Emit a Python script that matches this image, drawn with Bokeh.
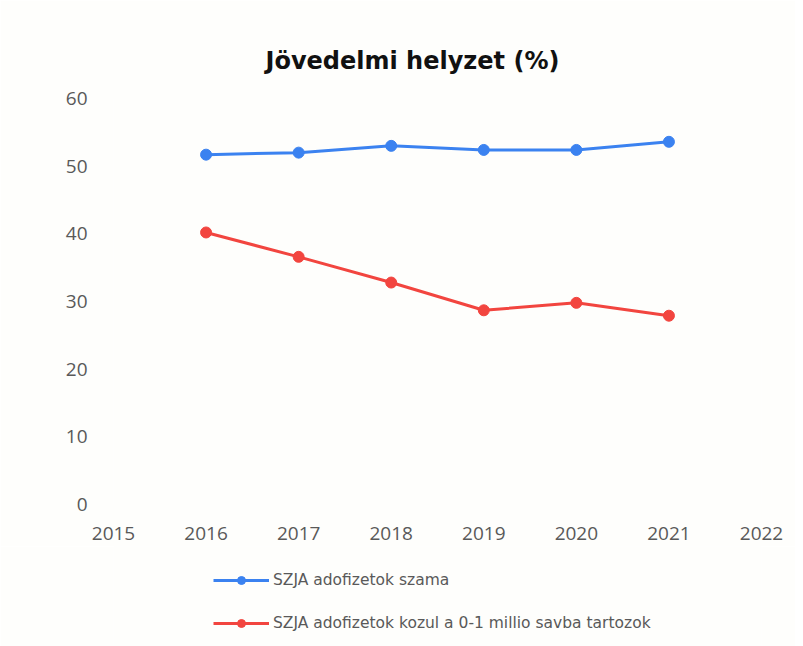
from bokeh.plotting import figure
from bokeh.layouts import column
from bokeh.models import Legend, LegendItem, Range1d, FixedTicker
from bokeh.embed import file_html
from bokeh.resources import INLINE

years = [2016, 2017, 2018, 2019, 2020, 2021]
szja_total = [51.7, 52.0, 53.0, 52.4, 52.4, 53.6]
szja_low = [40.2, 36.6, 32.8, 28.7, 29.8, 27.9]
x_ticks = [2015, 2016, 2017, 2018, 2019, 2020, 2021, 2022]
y_ticks = [0, 10, 20, 30, 40, 50, 60]
label_total = "SZJA adofizetok szama"
label_low = "SZJA adofizetok kozul a 0-1 millio savba tartozok"

bg = "#fefefc"
blue = "#3b82f0"
red = "#f2453f"

p = figure(width=795, height=546, output_backend="svg", toolbar_location=None,
           x_range=Range1d(2015, 2022), y_range=Range1d(0, 60),
           min_border_left=113, min_border_right=34, min_border_top=98, min_border_bottom=42,
           background_fill_color=bg, border_fill_color=bg,
           outline_line_color=None, title="Jövedelmi helyzet (%)")

p.title.text_font = "DejaVu Sans"
p.title.text_font_style = "bold"
p.title.text_font_size = "24px"
p.title.text_color = "#111111"
p.title.align = "left"
p.title.offset = 152
p.title.standoff = 47

p.line(years, szja_total, line_color=blue, line_width=3)
p.scatter(years, szja_total, size=11, fill_color=blue, line_color=blue)
p.line(years, szja_low, line_color=red, line_width=3)
p.scatter(years, szja_low, size=11, fill_color=red, line_color=red)

p.xgrid.visible = False
p.ygrid.visible = False
for ax in (p.xaxis[0], p.yaxis[0]):
    ax.axis_line_color = None
    ax.major_tick_line_color = None
    ax.minor_tick_line_color = None
    ax.major_label_text_color = "#595959"
    ax.major_label_text_font = "Open Sans"
    ax.major_label_text_font_size = "19px"
p.xaxis.ticker = FixedTicker(ticks=x_ticks)
p.yaxis.ticker = FixedTicker(ticks=y_ticks)
p.yaxis.major_label_standoff = 20
p.xaxis.major_label_standoff = 16

# legend panel below the chart
p2 = figure(width=795, height=100, output_backend="svg", toolbar_location=None,
            x_range=Range1d(0, 1), y_range=Range1d(0, 1),
            min_border=0, background_fill_color=bg, border_fill_color=bg,
            outline_line_color=None)
p2.axis.visible = False
p2.grid.visible = False
l1 = p2.line(years, szja_total, line_color=blue, line_width=3)
s1 = p2.scatter(years, szja_total, size=11, fill_color=blue, line_color=blue)
l2 = p2.line(years, szja_low, line_color=red, line_width=3)
s2 = p2.scatter(years, szja_low, size=11, fill_color=red, line_color=red)

legend = Legend(items=[LegendItem(label=label_total, renderers=[l1, s1]),
                       LegendItem(label=label_low, renderers=[l2, s2])],
                location=(100, 13), orientation="vertical",
                label_text_font="DejaVu Sans", label_text_font_size="15.5px",
                label_text_color="#595959", glyph_width=56, glyph_height=20,
                spacing=23, padding=0, margin=0, label_standoff=4,
                border_line_color=None, background_fill_alpha=0)
p2.add_layout(legend, "center")

layout = column(p, p2, spacing=0)
open("out.html", "w").write(file_html(layout, INLINE))
